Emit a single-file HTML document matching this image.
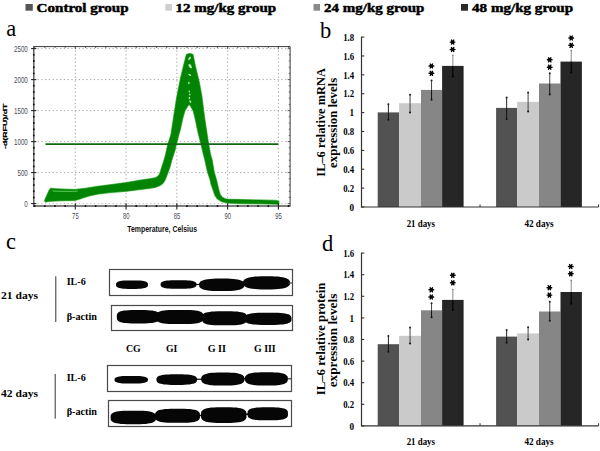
<!DOCTYPE html>
<html><head><meta charset="utf-8"><style>
html,body{margin:0;padding:0;background:#fff;}
svg{display:block;}
.S{font-family:"Liberation Serif",serif;}
.A{font-family:"Liberation Sans",sans-serif;}
</style></head><body>
<svg width="600" height="451" viewBox="0 0 600 451">
<rect width="600" height="451" fill="#fff"/>
<rect x="25.5" y="4" width="7.3" height="6.7" fill="#555555" stroke="none" stroke-width="0"/>
<text x="36.6" y="11.8" font-size="12.2" font-weight="bold" text-anchor="start" fill="#000" class="S" textLength="92" lengthAdjust="spacingAndGlyphs" stroke="#000" stroke-width="0.45">Control group</text>
<rect x="165.3" y="4" width="6.7" height="6.7" fill="#cfcfcf" stroke="none" stroke-width="0"/>
<text x="175.6" y="11.8" font-size="12.2" font-weight="bold" text-anchor="start" fill="#000" class="S" textLength="100.5" lengthAdjust="spacingAndGlyphs" stroke="#000" stroke-width="0.45">12 mg/kg group</text>
<rect x="313.5" y="4" width="6.5" height="6.7" fill="#8a8a8a" stroke="none" stroke-width="0"/>
<text x="324.1" y="11.8" font-size="12.2" font-weight="bold" text-anchor="start" fill="#000" class="S" textLength="100.3" lengthAdjust="spacingAndGlyphs" stroke="#000" stroke-width="0.45">24 mg/kg group</text>
<rect x="461" y="4" width="7" height="6.7" fill="#2a2a2a" stroke="none" stroke-width="0"/>
<text x="472.1" y="11.8" font-size="12.2" font-weight="bold" text-anchor="start" fill="#000" class="S" textLength="101" lengthAdjust="spacingAndGlyphs" stroke="#000" stroke-width="0.45">48 mg/kg group</text>
<text x="6.3" y="35.6" font-size="22.5" font-weight="normal" text-anchor="start" fill="#000" class="S">a</text>
<text x="320" y="37.8" font-size="22.5" font-weight="normal" text-anchor="start" fill="#000" class="S">b</text>
<text x="6" y="249.4" font-size="22.5" font-weight="normal" text-anchor="start" fill="#000" class="S">c</text>
<text x="322" y="251" font-size="22.5" font-weight="normal" text-anchor="start" fill="#000" class="S">d</text>
<line x1="33.8" y1="172.6" x2="290.1" y2="172.6" stroke="#9a9a9a" stroke-width="0.9" stroke-dasharray="1.3 2.45"/>
<line x1="33.8" y1="141.6" x2="290.1" y2="141.6" stroke="#9a9a9a" stroke-width="0.9" stroke-dasharray="1.3 2.45"/>
<line x1="33.8" y1="110.6" x2="290.1" y2="110.6" stroke="#9a9a9a" stroke-width="0.9" stroke-dasharray="1.3 2.45"/>
<line x1="33.8" y1="79.6" x2="290.1" y2="79.6" stroke="#9a9a9a" stroke-width="0.9" stroke-dasharray="1.3 2.45"/>
<line x1="33.8" y1="48.599999999999994" x2="290.1" y2="48.599999999999994" stroke="#9a9a9a" stroke-width="0.9" stroke-dasharray="1.3 2.45"/>
<line x1="33.8" y1="203.6" x2="290.1" y2="203.6" stroke="#b5b5b5" stroke-width="0.9" stroke-dasharray="1.3 2.45"/>
<line x1="75.3" y1="46.6" x2="75.3" y2="206.0" stroke="#9a9a9a" stroke-width="0.9" stroke-dasharray="1.3 2.45"/>
<line x1="126.07499999999999" y1="46.6" x2="126.07499999999999" y2="206.0" stroke="#9a9a9a" stroke-width="0.9" stroke-dasharray="1.3 2.45"/>
<line x1="176.85" y1="46.6" x2="176.85" y2="206.0" stroke="#9a9a9a" stroke-width="0.9" stroke-dasharray="1.3 2.45"/>
<line x1="227.625" y1="46.6" x2="227.625" y2="206.0" stroke="#9a9a9a" stroke-width="0.9" stroke-dasharray="1.3 2.45"/>
<line x1="278.4" y1="46.6" x2="278.4" y2="206.0" stroke="#9a9a9a" stroke-width="0.9" stroke-dasharray="1.3 2.45"/>
<path d="M44.6,200.5 L47.0,195.0 L49.3,190.0 L50.8,188.3 L55.0,188.7 L65.0,189.2 L75.0,189.5 L86.0,188.2 L96.3,186.6 L110.0,184.8 L126.7,182.6 L140.0,180.2 L150.0,178.8 L155.5,177.7 L158.0,176.3 L159.6,174.0 L160.4,171.5 L162.0,166.5 L164.1,160.0 L165.5,155.0 L166.6,150.0 L167.9,144.0 L170.9,135.0 L173.5,118.0 L176.6,98.0 L180.6,78.0 L183.5,66.0 L186.4,54.6 L188.3,53.7 L191.2,53.7 L193.0,54.6 L195.2,65.5 L197.5,75.0 L199.2,82.0 L201.8,96.0 L204.6,118.0 L207.2,135.0 L208.6,144.0 L210.4,154.0 L212.1,160.0 L214.2,172.2 L216.5,180.0 L217.4,184.0 L218.8,190.0 L220.2,194.5 L222.3,197.3 L225.0,198.7 L228.0,199.3 L240.0,199.6 L260.0,200.0 L275.0,200.4 L278.8,201.0 L278.8,204.2 L260.0,203.8 L240.0,203.6 L228.0,203.1 L222.0,201.8 L217.4,199.0 L215.0,195.5 L213.1,190.0 L211.0,184.0 L210.2,180.0 L207.6,172.2 L204.9,160.0 L202.4,150.0 L201.0,144.0 L200.2,141.0 L197.5,130.0 L195.5,120.0 L193.3,111.0 L190.5,106.0 L189.1,104.4 L187.8,106.0 L184.8,111.0 L182.8,118.0 L180.2,130.0 L178.7,135.0 L177.3,141.0 L176.4,144.0 L175.1,150.0 L171.8,160.0 L170.3,166.0 L168.0,172.4 L166.5,176.5 L165.0,180.2 L163.0,183.3 L160.0,185.6 L155.0,187.4 L150.0,188.3 L140.0,189.5 L126.7,191.2 L110.0,192.6 L98.5,193.9 L90.0,195.7 L84.0,197.6 L79.0,199.3 L74.7,200.4 L60.0,200.8 L50.0,201.3 L45.2,202.0 Z" fill="none" stroke="#b8ecb8" stroke-width="1.6" stroke-linejoin="round"/>
<path d="M44.6,200.5 L47.0,195.0 L49.3,190.0 L50.8,188.3 L55.0,188.7 L65.0,189.2 L75.0,189.5 L86.0,188.2 L96.3,186.6 L110.0,184.8 L126.7,182.6 L140.0,180.2 L150.0,178.8 L155.5,177.7 L158.0,176.3 L159.6,174.0 L160.4,171.5 L162.0,166.5 L164.1,160.0 L165.5,155.0 L166.6,150.0 L167.9,144.0 L170.9,135.0 L173.5,118.0 L176.6,98.0 L180.6,78.0 L183.5,66.0 L186.4,54.6 L188.3,53.7 L191.2,53.7 L193.0,54.6 L195.2,65.5 L197.5,75.0 L199.2,82.0 L201.8,96.0 L204.6,118.0 L207.2,135.0 L208.6,144.0 L210.4,154.0 L212.1,160.0 L214.2,172.2 L216.5,180.0 L217.4,184.0 L218.8,190.0 L220.2,194.5 L222.3,197.3 L225.0,198.7 L228.0,199.3 L240.0,199.6 L260.0,200.0 L275.0,200.4 L278.8,201.0 L278.8,204.2 L260.0,203.8 L240.0,203.6 L228.0,203.1 L222.0,201.8 L217.4,199.0 L215.0,195.5 L213.1,190.0 L211.0,184.0 L210.2,180.0 L207.6,172.2 L204.9,160.0 L202.4,150.0 L201.0,144.0 L200.2,141.0 L197.5,130.0 L195.5,120.0 L193.3,111.0 L190.5,106.0 L189.1,104.4 L187.8,106.0 L184.8,111.0 L182.8,118.0 L180.2,130.0 L178.7,135.0 L177.3,141.0 L176.4,144.0 L175.1,150.0 L171.8,160.0 L170.3,166.0 L168.0,172.4 L166.5,176.5 L165.0,180.2 L163.0,183.3 L160.0,185.6 L155.0,187.4 L150.0,188.3 L140.0,189.5 L126.7,191.2 L110.0,192.6 L98.5,193.9 L90.0,195.7 L84.0,197.6 L79.0,199.3 L74.7,200.4 L60.0,200.8 L50.0,201.3 L45.2,202.0 Z" fill="#048404" stroke="#048404" stroke-width="0.5" stroke-linejoin="round"/>
<path d="M52.5,191 L60,191.3 L70,191.4 L77.6,191.2" stroke="#5fd35f" stroke-width="0.9" fill="none"/>
<ellipse cx="189.6" cy="58.3" rx="0.9" ry="1.9" fill="#b6eeb6" transform="rotate(40 189.6 58.3)"/>
<ellipse cx="190.2" cy="66.2" rx="1.3" ry="2.4" fill="#b6eeb6" transform="rotate(-35 190.2 66.2)"/>
<ellipse cx="189.8" cy="74.9" rx="0.8" ry="1.6" fill="#b6eeb6" transform="rotate(-55 189.8 74.9)"/>
<ellipse cx="188.9" cy="83" rx="0.7" ry="1.3" fill="#b6eeb6" transform="rotate(0 188.9 83)"/>
<ellipse cx="189.3" cy="91.5" rx="0.7" ry="1.1" fill="#b6eeb6" transform="rotate(0 189.3 91.5)"/>
<ellipse cx="189.8" cy="94.5" rx="0.7" ry="1.0" fill="#b6eeb6" transform="rotate(0 189.8 94.5)"/>
<ellipse cx="189.4" cy="98" rx="0.8" ry="1.3" fill="#b6eeb6" transform="rotate(0 189.4 98)"/>
<ellipse cx="190.3" cy="101.5" rx="0.8" ry="1.4" fill="#b6eeb6" transform="rotate(-30 190.3 101.5)"/>
<line x1="45.5" y1="144.1" x2="278.3" y2="144.1" stroke="#116811" stroke-width="1.6"/>
<path d="M33.8,46.6 H290.1 V206.0" fill="none" stroke="#3a3a3a" stroke-width="1"/>
<line x1="33.8" y1="46.1" x2="33.8" y2="207.0" stroke="#555" stroke-width="1.4"/>
<line x1="33.3" y1="206.0" x2="290.6" y2="206.0" stroke="#555" stroke-width="1.4"/>
<line x1="31.099999999999998" y1="203.6" x2="36.3" y2="203.6" stroke="#222" stroke-width="1.1"/>
<line x1="287.6" y1="203.6" x2="290.1" y2="203.6" stroke="#444" stroke-width="0.8"/>
<circle cx="33.8" cy="197.40" r="0.95" fill="#111"/>
<line x1="288.8" y1="197.4" x2="290.1" y2="197.4" stroke="#444" stroke-width="0.9"/>
<circle cx="33.8" cy="191.20" r="0.95" fill="#111"/>
<line x1="288.8" y1="191.2" x2="290.1" y2="191.2" stroke="#444" stroke-width="0.9"/>
<circle cx="33.8" cy="185.00" r="0.95" fill="#111"/>
<line x1="288.8" y1="185.0" x2="290.1" y2="185.0" stroke="#444" stroke-width="0.9"/>
<circle cx="33.8" cy="178.80" r="0.95" fill="#111"/>
<line x1="288.8" y1="178.79999999999998" x2="290.1" y2="178.79999999999998" stroke="#444" stroke-width="0.9"/>
<line x1="31.099999999999998" y1="172.6" x2="36.3" y2="172.6" stroke="#222" stroke-width="1.1"/>
<line x1="287.6" y1="172.6" x2="290.1" y2="172.6" stroke="#444" stroke-width="0.8"/>
<circle cx="33.8" cy="166.40" r="0.95" fill="#111"/>
<line x1="288.8" y1="166.39999999999998" x2="290.1" y2="166.39999999999998" stroke="#444" stroke-width="0.9"/>
<circle cx="33.8" cy="160.20" r="0.95" fill="#111"/>
<line x1="288.8" y1="160.2" x2="290.1" y2="160.2" stroke="#444" stroke-width="0.9"/>
<circle cx="33.8" cy="154.00" r="0.95" fill="#111"/>
<line x1="288.8" y1="154.0" x2="290.1" y2="154.0" stroke="#444" stroke-width="0.9"/>
<circle cx="33.8" cy="147.80" r="0.95" fill="#111"/>
<line x1="288.8" y1="147.8" x2="290.1" y2="147.8" stroke="#444" stroke-width="0.9"/>
<line x1="31.099999999999998" y1="141.6" x2="36.3" y2="141.6" stroke="#222" stroke-width="1.1"/>
<line x1="287.6" y1="141.6" x2="290.1" y2="141.6" stroke="#444" stroke-width="0.8"/>
<circle cx="33.8" cy="135.40" r="0.95" fill="#111"/>
<line x1="288.8" y1="135.39999999999998" x2="290.1" y2="135.39999999999998" stroke="#444" stroke-width="0.9"/>
<circle cx="33.8" cy="129.20" r="0.95" fill="#111"/>
<line x1="288.8" y1="129.2" x2="290.1" y2="129.2" stroke="#444" stroke-width="0.9"/>
<circle cx="33.8" cy="123.00" r="0.95" fill="#111"/>
<line x1="288.8" y1="123.0" x2="290.1" y2="123.0" stroke="#444" stroke-width="0.9"/>
<circle cx="33.8" cy="116.80" r="0.95" fill="#111"/>
<line x1="288.8" y1="116.8" x2="290.1" y2="116.8" stroke="#444" stroke-width="0.9"/>
<line x1="31.099999999999998" y1="110.6" x2="36.3" y2="110.6" stroke="#222" stroke-width="1.1"/>
<line x1="287.6" y1="110.6" x2="290.1" y2="110.6" stroke="#444" stroke-width="0.8"/>
<circle cx="33.8" cy="104.40" r="0.95" fill="#111"/>
<line x1="288.8" y1="104.39999999999999" x2="290.1" y2="104.39999999999999" stroke="#444" stroke-width="0.9"/>
<circle cx="33.8" cy="98.20" r="0.95" fill="#111"/>
<line x1="288.8" y1="98.19999999999999" x2="290.1" y2="98.19999999999999" stroke="#444" stroke-width="0.9"/>
<circle cx="33.8" cy="92.00" r="0.95" fill="#111"/>
<line x1="288.8" y1="92.0" x2="290.1" y2="92.0" stroke="#444" stroke-width="0.9"/>
<circle cx="33.8" cy="85.80" r="0.95" fill="#111"/>
<line x1="288.8" y1="85.8" x2="290.1" y2="85.8" stroke="#444" stroke-width="0.9"/>
<line x1="31.099999999999998" y1="79.6" x2="36.3" y2="79.6" stroke="#222" stroke-width="1.1"/>
<line x1="287.6" y1="79.6" x2="290.1" y2="79.6" stroke="#444" stroke-width="0.8"/>
<circle cx="33.8" cy="73.40" r="0.95" fill="#111"/>
<line x1="288.8" y1="73.4" x2="290.1" y2="73.4" stroke="#444" stroke-width="0.9"/>
<circle cx="33.8" cy="67.20" r="0.95" fill="#111"/>
<line x1="288.8" y1="67.19999999999999" x2="290.1" y2="67.19999999999999" stroke="#444" stroke-width="0.9"/>
<circle cx="33.8" cy="61.00" r="0.95" fill="#111"/>
<line x1="288.8" y1="61.0" x2="290.1" y2="61.0" stroke="#444" stroke-width="0.9"/>
<circle cx="33.8" cy="54.80" r="0.95" fill="#111"/>
<line x1="288.8" y1="54.79999999999998" x2="290.1" y2="54.79999999999998" stroke="#444" stroke-width="0.9"/>
<line x1="31.099999999999998" y1="48.599999999999994" x2="36.3" y2="48.599999999999994" stroke="#222" stroke-width="1.1"/>
<line x1="287.6" y1="48.599999999999994" x2="290.1" y2="48.599999999999994" stroke="#444" stroke-width="0.8"/>
<circle cx="34.68" cy="206.0" r="0.95" fill="#111"/>
<line x1="34.68" y1="46.6" x2="34.68" y2="47.9" stroke="#444" stroke-width="0.9"/>
<circle cx="44.84" cy="206.0" r="0.95" fill="#111"/>
<line x1="44.835" y1="46.6" x2="44.835" y2="47.9" stroke="#444" stroke-width="0.9"/>
<circle cx="54.99" cy="206.0" r="0.95" fill="#111"/>
<line x1="54.989999999999995" y1="46.6" x2="54.989999999999995" y2="47.9" stroke="#444" stroke-width="0.9"/>
<circle cx="65.14" cy="206.0" r="0.95" fill="#111"/>
<line x1="65.145" y1="46.6" x2="65.145" y2="47.9" stroke="#444" stroke-width="0.9"/>
<line x1="75.3" y1="203.2" x2="75.3" y2="209.5" stroke="#222" stroke-width="1.1"/>
<line x1="75.3" y1="46.6" x2="75.3" y2="49.1" stroke="#444" stroke-width="0.8"/>
<circle cx="85.45" cy="206.0" r="0.95" fill="#111"/>
<line x1="85.455" y1="46.6" x2="85.455" y2="47.9" stroke="#444" stroke-width="0.9"/>
<circle cx="95.61" cy="206.0" r="0.95" fill="#111"/>
<line x1="95.61" y1="46.6" x2="95.61" y2="47.9" stroke="#444" stroke-width="0.9"/>
<circle cx="105.76" cy="206.0" r="0.95" fill="#111"/>
<line x1="105.76499999999999" y1="46.6" x2="105.76499999999999" y2="47.9" stroke="#444" stroke-width="0.9"/>
<circle cx="115.92" cy="206.0" r="0.95" fill="#111"/>
<line x1="115.91999999999999" y1="46.6" x2="115.91999999999999" y2="47.9" stroke="#444" stroke-width="0.9"/>
<line x1="126.07499999999999" y1="203.2" x2="126.07499999999999" y2="209.5" stroke="#222" stroke-width="1.1"/>
<line x1="126.07499999999999" y1="46.6" x2="126.07499999999999" y2="49.1" stroke="#444" stroke-width="0.8"/>
<circle cx="136.23" cy="206.0" r="0.95" fill="#111"/>
<line x1="136.23" y1="46.6" x2="136.23" y2="47.9" stroke="#444" stroke-width="0.9"/>
<circle cx="146.38" cy="206.0" r="0.95" fill="#111"/>
<line x1="146.385" y1="46.6" x2="146.385" y2="47.9" stroke="#444" stroke-width="0.9"/>
<circle cx="156.54" cy="206.0" r="0.95" fill="#111"/>
<line x1="156.54" y1="46.6" x2="156.54" y2="47.9" stroke="#444" stroke-width="0.9"/>
<circle cx="166.69" cy="206.0" r="0.95" fill="#111"/>
<line x1="166.695" y1="46.6" x2="166.695" y2="47.9" stroke="#444" stroke-width="0.9"/>
<line x1="176.85" y1="203.2" x2="176.85" y2="209.5" stroke="#222" stroke-width="1.1"/>
<line x1="176.85" y1="46.6" x2="176.85" y2="49.1" stroke="#444" stroke-width="0.8"/>
<circle cx="187.00" cy="206.0" r="0.95" fill="#111"/>
<line x1="187.005" y1="46.6" x2="187.005" y2="47.9" stroke="#444" stroke-width="0.9"/>
<circle cx="197.16" cy="206.0" r="0.95" fill="#111"/>
<line x1="197.15999999999997" y1="46.6" x2="197.15999999999997" y2="47.9" stroke="#444" stroke-width="0.9"/>
<circle cx="207.31" cy="206.0" r="0.95" fill="#111"/>
<line x1="207.315" y1="46.6" x2="207.315" y2="47.9" stroke="#444" stroke-width="0.9"/>
<circle cx="217.47" cy="206.0" r="0.95" fill="#111"/>
<line x1="217.46999999999997" y1="46.6" x2="217.46999999999997" y2="47.9" stroke="#444" stroke-width="0.9"/>
<line x1="227.625" y1="203.2" x2="227.625" y2="209.5" stroke="#222" stroke-width="1.1"/>
<line x1="227.625" y1="46.6" x2="227.625" y2="49.1" stroke="#444" stroke-width="0.8"/>
<circle cx="237.78" cy="206.0" r="0.95" fill="#111"/>
<line x1="237.77999999999997" y1="46.6" x2="237.77999999999997" y2="47.9" stroke="#444" stroke-width="0.9"/>
<circle cx="247.94" cy="206.0" r="0.95" fill="#111"/>
<line x1="247.935" y1="46.6" x2="247.935" y2="47.9" stroke="#444" stroke-width="0.9"/>
<circle cx="258.09" cy="206.0" r="0.95" fill="#111"/>
<line x1="258.09" y1="46.6" x2="258.09" y2="47.9" stroke="#444" stroke-width="0.9"/>
<circle cx="268.25" cy="206.0" r="0.95" fill="#111"/>
<line x1="268.245" y1="46.6" x2="268.245" y2="47.9" stroke="#444" stroke-width="0.9"/>
<line x1="278.4" y1="203.2" x2="278.4" y2="209.5" stroke="#222" stroke-width="1.1"/>
<line x1="278.4" y1="46.6" x2="278.4" y2="49.1" stroke="#444" stroke-width="0.8"/>
<circle cx="288.56" cy="206.0" r="0.95" fill="#111"/>
<line x1="288.555" y1="46.6" x2="288.555" y2="47.9" stroke="#444" stroke-width="0.9"/>
<text x="27.8" y="206.7" font-size="8.7" font-weight="normal" text-anchor="end" fill="#4a4a55" class="A" textLength="3.45" lengthAdjust="spacingAndGlyphs">0</text>
<text x="27.8" y="175.7" font-size="8.7" font-weight="normal" text-anchor="end" fill="#4a4a55" class="A" textLength="10.350000000000001" lengthAdjust="spacingAndGlyphs">500</text>
<text x="27.8" y="144.7" font-size="8.7" font-weight="normal" text-anchor="end" fill="#4a4a55" class="A" textLength="13.8" lengthAdjust="spacingAndGlyphs">1000</text>
<text x="27.8" y="113.69999999999999" font-size="8.7" font-weight="normal" text-anchor="end" fill="#4a4a55" class="A" textLength="13.8" lengthAdjust="spacingAndGlyphs">1500</text>
<text x="27.8" y="82.69999999999999" font-size="8.7" font-weight="normal" text-anchor="end" fill="#4a4a55" class="A" textLength="13.8" lengthAdjust="spacingAndGlyphs">2000</text>
<text x="27.8" y="51.699999999999996" font-size="8.7" font-weight="normal" text-anchor="end" fill="#4a4a55" class="A" textLength="13.8" lengthAdjust="spacingAndGlyphs">2500</text>
<text x="75.39999999999999" y="218.8" font-size="8.2" font-weight="normal" text-anchor="middle" fill="#4a4a55" class="A" textLength="6.6" lengthAdjust="spacingAndGlyphs">75</text>
<text x="126.17499999999998" y="218.8" font-size="8.2" font-weight="normal" text-anchor="middle" fill="#4a4a55" class="A" textLength="6.6" lengthAdjust="spacingAndGlyphs">80</text>
<text x="176.95" y="218.8" font-size="8.2" font-weight="normal" text-anchor="middle" fill="#4a4a55" class="A" textLength="6.6" lengthAdjust="spacingAndGlyphs">85</text>
<text x="227.725" y="218.8" font-size="8.2" font-weight="normal" text-anchor="middle" fill="#4a4a55" class="A" textLength="6.6" lengthAdjust="spacingAndGlyphs">90</text>
<text x="278.5" y="218.8" font-size="8.2" font-weight="normal" text-anchor="middle" fill="#4a4a55" class="A" textLength="6.6" lengthAdjust="spacingAndGlyphs">95</text>
<text x="127.3" y="232.3" font-size="8.3" font-weight="bold" text-anchor="start" fill="#111" class="A" textLength="69.7" lengthAdjust="spacingAndGlyphs">Temperature, Celsius</text>
<text transform="translate(6.9,126.3) rotate(-90) scale(1,0.62)" font-size="8.8" font-weight="bold" text-anchor="middle" class="A" fill="#000" stroke="#000" stroke-width="0.4">-d(RFU)/dT</text>
<rect x="377.7" y="112.4" width="21.400000000000034" height="94.6" fill="#525252" stroke="none" stroke-width="0"/>
<line x1="388.4" y1="104.3" x2="388.4" y2="112.4" stroke="#222" stroke-width="1.0"/>
<line x1="388.4" y1="112.4" x2="388.4" y2="119.8" stroke="#111" stroke-width="1.0"/>
<circle cx="388.40" cy="104.3" r="1.0" fill="#222"/>
<circle cx="388.40" cy="119.8" r="1.0" fill="#111"/>
<rect x="399.1" y="103.2" width="21.899999999999977" height="103.8" fill="#cacaca" stroke="none" stroke-width="0"/>
<line x1="410.05" y1="94.7" x2="410.05" y2="103.2" stroke="#444" stroke-width="1.0"/>
<line x1="410.05" y1="103.2" x2="410.05" y2="112.5" stroke="#444" stroke-width="1.0"/>
<circle cx="410.05" cy="94.7" r="1.0" fill="#222"/>
<circle cx="410.05" cy="112.5" r="1.0" fill="#111"/>
<rect x="421" y="89.9" width="21.100000000000023" height="117.1" fill="#868686" stroke="none" stroke-width="0"/>
<line x1="431.55" y1="80.5" x2="431.55" y2="89.9" stroke="#444" stroke-width="1.0"/>
<line x1="431.55" y1="89.9" x2="431.55" y2="99.8" stroke="#111" stroke-width="1.0"/>
<circle cx="431.55" cy="80.5" r="1.0" fill="#222"/>
<circle cx="431.55" cy="99.8" r="1.0" fill="#111"/>
<rect x="442.1" y="65.9" width="21.5" height="141.1" fill="#262626" stroke="none" stroke-width="0"/>
<line x1="452.85" y1="55.3" x2="452.85" y2="65.9" stroke="#8a8a8a" stroke-width="1.0"/>
<line x1="452.85" y1="65.9" x2="452.85" y2="76.6" stroke="#000" stroke-width="1.1"/>
<circle cx="452.85" cy="55.3" r="0.8" fill="#777"/>
<circle cx="452.85" cy="76.6" r="1.0" fill="#000"/>
<rect x="496.1" y="107.9" width="21.100000000000023" height="99.1" fill="#525252" stroke="none" stroke-width="0"/>
<line x1="506.65000000000003" y1="97.4" x2="506.65000000000003" y2="107.9" stroke="#222" stroke-width="1.0"/>
<line x1="506.65000000000003" y1="107.9" x2="506.65000000000003" y2="118.9" stroke="#111" stroke-width="1.0"/>
<circle cx="506.65" cy="97.4" r="1.0" fill="#222"/>
<circle cx="506.65" cy="118.9" r="1.0" fill="#111"/>
<rect x="517.2" y="101.8" width="21.799999999999955" height="105.2" fill="#cacaca" stroke="none" stroke-width="0"/>
<line x1="528.1" y1="92.6" x2="528.1" y2="101.8" stroke="#444" stroke-width="1.0"/>
<line x1="528.1" y1="101.8" x2="528.1" y2="111.6" stroke="#444" stroke-width="1.0"/>
<circle cx="528.10" cy="92.6" r="1.0" fill="#222"/>
<circle cx="528.10" cy="111.6" r="1.0" fill="#111"/>
<rect x="539" y="83.5" width="21.5" height="123.5" fill="#868686" stroke="none" stroke-width="0"/>
<line x1="549.75" y1="73.3" x2="549.75" y2="83.5" stroke="#444" stroke-width="1.0"/>
<line x1="549.75" y1="83.5" x2="549.75" y2="94.5" stroke="#111" stroke-width="1.0"/>
<circle cx="549.75" cy="73.3" r="1.0" fill="#222"/>
<circle cx="549.75" cy="94.5" r="1.0" fill="#111"/>
<rect x="560.5" y="61.6" width="21.399999999999977" height="145.4" fill="#262626" stroke="none" stroke-width="0"/>
<line x1="571.2" y1="50.6" x2="571.2" y2="61.6" stroke="#8a8a8a" stroke-width="1.0"/>
<line x1="571.2" y1="61.6" x2="571.2" y2="72.6" stroke="#000" stroke-width="1.1"/>
<circle cx="571.20" cy="50.6" r="0.8" fill="#777"/>
<circle cx="571.20" cy="72.6" r="1.0" fill="#000"/>
<g stroke="#000" stroke-width="1.45" stroke-linecap="round"><line x1="429.09999999999997" y1="66" x2="433.7" y2="66"/><line x1="430.25" y1="64.01" x2="432.55" y2="67.99"/><line x1="430.25" y1="67.99" x2="432.55" y2="64.01"/></g>
<circle cx="431.4" cy="66" r="1.45" fill="#000"/>
<g stroke="#000" stroke-width="1.45" stroke-linecap="round"><line x1="429.09999999999997" y1="73.3" x2="433.7" y2="73.3"/><line x1="430.25" y1="71.31" x2="432.55" y2="75.29"/><line x1="430.25" y1="75.29" x2="432.55" y2="71.31"/></g>
<circle cx="431.4" cy="73.3" r="1.45" fill="#000"/>
<g stroke="#000" stroke-width="1.45" stroke-linecap="round"><line x1="450.3" y1="42.1" x2="454.90000000000003" y2="42.1"/><line x1="451.45" y1="40.11" x2="453.75" y2="44.09"/><line x1="451.45" y1="44.09" x2="453.75" y2="40.11"/></g>
<circle cx="452.6" cy="42.1" r="1.45" fill="#000"/>
<g stroke="#000" stroke-width="1.45" stroke-linecap="round"><line x1="450.3" y1="49.5" x2="454.90000000000003" y2="49.5"/><line x1="451.45" y1="47.51" x2="453.75" y2="51.49"/><line x1="451.45" y1="51.49" x2="453.75" y2="47.51"/></g>
<circle cx="452.6" cy="49.5" r="1.45" fill="#000"/>
<g stroke="#000" stroke-width="1.45" stroke-linecap="round"><line x1="547.4000000000001" y1="59.8" x2="552.0" y2="59.8"/><line x1="548.55" y1="57.81" x2="550.85" y2="61.79"/><line x1="548.55" y1="61.79" x2="550.85" y2="57.81"/></g>
<circle cx="549.7" cy="59.8" r="1.45" fill="#000"/>
<g stroke="#000" stroke-width="1.45" stroke-linecap="round"><line x1="547.4000000000001" y1="67.2" x2="552.0" y2="67.2"/><line x1="548.55" y1="65.21" x2="550.85" y2="69.19"/><line x1="548.55" y1="69.19" x2="550.85" y2="65.21"/></g>
<circle cx="549.7" cy="67.2" r="1.45" fill="#000"/>
<g stroke="#000" stroke-width="1.45" stroke-linecap="round"><line x1="568.9000000000001" y1="38" x2="573.5" y2="38"/><line x1="570.05" y1="36.01" x2="572.35" y2="39.99"/><line x1="570.05" y1="39.99" x2="572.35" y2="36.01"/></g>
<circle cx="571.2" cy="38" r="1.45" fill="#000"/>
<g stroke="#000" stroke-width="1.45" stroke-linecap="round"><line x1="568.9000000000001" y1="45.3" x2="573.5" y2="45.3"/><line x1="570.05" y1="43.31" x2="572.35" y2="47.29"/><line x1="570.05" y1="47.29" x2="572.35" y2="43.31"/></g>
<circle cx="571.2" cy="45.3" r="1.45" fill="#000"/>
<line x1="361.5" y1="36.6" x2="361.5" y2="207.6" stroke="#333" stroke-width="1.2"/>
<line x1="361.5" y1="207.0" x2="598.6" y2="207.0" stroke="#333" stroke-width="1.2"/>
<line x1="361.5" y1="207.0" x2="364.3" y2="207.0" stroke="#333" stroke-width="1.1"/>
<text x="354.2" y="210.7" font-size="11" font-weight="bold" text-anchor="end" fill="#000" class="S" textLength="4.6" lengthAdjust="spacingAndGlyphs">0</text>
<line x1="361.5" y1="188.12" x2="364.3" y2="188.12" stroke="#333" stroke-width="1.1"/>
<text x="354.2" y="191.82" font-size="11" font-weight="bold" text-anchor="end" fill="#000" class="S" textLength="11.0" lengthAdjust="spacingAndGlyphs">0.2</text>
<line x1="361.5" y1="169.24" x2="364.3" y2="169.24" stroke="#333" stroke-width="1.1"/>
<text x="354.2" y="172.94" font-size="11" font-weight="bold" text-anchor="end" fill="#000" class="S" textLength="11.0" lengthAdjust="spacingAndGlyphs">0.4</text>
<line x1="361.5" y1="150.36" x2="364.3" y2="150.36" stroke="#333" stroke-width="1.1"/>
<text x="354.2" y="154.06" font-size="11" font-weight="bold" text-anchor="end" fill="#000" class="S" textLength="11.0" lengthAdjust="spacingAndGlyphs">0.6</text>
<line x1="361.5" y1="131.48" x2="364.3" y2="131.48" stroke="#333" stroke-width="1.1"/>
<text x="354.2" y="135.17999999999998" font-size="11" font-weight="bold" text-anchor="end" fill="#000" class="S" textLength="11.0" lengthAdjust="spacingAndGlyphs">0.8</text>
<line x1="361.5" y1="112.6" x2="364.3" y2="112.6" stroke="#333" stroke-width="1.1"/>
<text x="354.2" y="116.3" font-size="11" font-weight="bold" text-anchor="end" fill="#000" class="S" textLength="4.6" lengthAdjust="spacingAndGlyphs">1</text>
<line x1="361.5" y1="93.72" x2="364.3" y2="93.72" stroke="#333" stroke-width="1.1"/>
<text x="354.2" y="97.42" font-size="11" font-weight="bold" text-anchor="end" fill="#000" class="S" textLength="11.0" lengthAdjust="spacingAndGlyphs">1.2</text>
<line x1="361.5" y1="74.84" x2="364.3" y2="74.84" stroke="#333" stroke-width="1.1"/>
<text x="354.2" y="78.54" font-size="11" font-weight="bold" text-anchor="end" fill="#000" class="S" textLength="11.0" lengthAdjust="spacingAndGlyphs">1.4</text>
<line x1="361.5" y1="55.95999999999998" x2="364.3" y2="55.95999999999998" stroke="#333" stroke-width="1.1"/>
<text x="354.2" y="59.65999999999998" font-size="11" font-weight="bold" text-anchor="end" fill="#000" class="S" textLength="11.0" lengthAdjust="spacingAndGlyphs">1.6</text>
<line x1="361.5" y1="37.079999999999984" x2="364.3" y2="37.079999999999984" stroke="#333" stroke-width="1.1"/>
<text x="354.2" y="40.77999999999999" font-size="11" font-weight="bold" text-anchor="end" fill="#000" class="S" textLength="11.0" lengthAdjust="spacingAndGlyphs">1.8</text>
<line x1="480.05" y1="207.0" x2="480.05" y2="204.4" stroke="#333" stroke-width="1"/>
<line x1="598.6" y1="207.0" x2="598.6" y2="204.4" stroke="#333" stroke-width="1"/>
<text x="406.7" y="227.3" font-size="11" font-weight="bold" text-anchor="start" fill="#000" class="S" textLength="28.3" lengthAdjust="spacingAndGlyphs">21 days</text>
<text x="524.4" y="227.3" font-size="11" font-weight="bold" text-anchor="start" fill="#000" class="S" textLength="29.3" lengthAdjust="spacingAndGlyphs">42 days</text>
<text transform="translate(325,122.4) rotate(-90)" font-size="12.3" font-weight="bold" text-anchor="middle" class="S" textLength="108.6" lengthAdjust="spacingAndGlyphs">IL–6 relative mRNA</text>
<text transform="translate(337.2,122.9) rotate(-90)" font-size="12.3" font-weight="bold" text-anchor="middle" class="S" textLength="90" lengthAdjust="spacingAndGlyphs">expression levels</text>
<rect x="377.7" y="344.2" width="21.400000000000034" height="81.60000000000002" fill="#525252" stroke="none" stroke-width="0"/>
<line x1="388.4" y1="336" x2="388.4" y2="344.2" stroke="#222" stroke-width="1.0"/>
<line x1="388.4" y1="344.2" x2="388.4" y2="351.8" stroke="#111" stroke-width="1.0"/>
<circle cx="388.40" cy="336" r="1.0" fill="#222"/>
<circle cx="388.40" cy="351.8" r="1.0" fill="#111"/>
<rect x="399.1" y="335.8" width="21.899999999999977" height="90.0" fill="#cacaca" stroke="none" stroke-width="0"/>
<line x1="410.05" y1="327.6" x2="410.05" y2="335.8" stroke="#444" stroke-width="1.0"/>
<line x1="410.05" y1="335.8" x2="410.05" y2="343.6" stroke="#444" stroke-width="1.0"/>
<circle cx="410.05" cy="327.6" r="1.0" fill="#222"/>
<circle cx="410.05" cy="343.6" r="1.0" fill="#111"/>
<rect x="421" y="310.3" width="21.100000000000023" height="115.5" fill="#868686" stroke="none" stroke-width="0"/>
<line x1="431.55" y1="303.2" x2="431.55" y2="310.3" stroke="#444" stroke-width="1.0"/>
<line x1="431.55" y1="310.3" x2="431.55" y2="317.2" stroke="#111" stroke-width="1.0"/>
<circle cx="431.55" cy="303.2" r="1.0" fill="#222"/>
<circle cx="431.55" cy="317.2" r="1.0" fill="#111"/>
<rect x="442.1" y="299.9" width="21.5" height="125.90000000000003" fill="#262626" stroke="none" stroke-width="0"/>
<line x1="452.85" y1="289.5" x2="452.85" y2="299.9" stroke="#8a8a8a" stroke-width="1.0"/>
<line x1="452.85" y1="299.9" x2="452.85" y2="309.9" stroke="#000" stroke-width="1.1"/>
<circle cx="452.85" cy="289.5" r="0.8" fill="#777"/>
<circle cx="452.85" cy="309.9" r="1.0" fill="#000"/>
<rect x="496.1" y="336.6" width="21.100000000000023" height="89.19999999999999" fill="#525252" stroke="none" stroke-width="0"/>
<line x1="506.65000000000003" y1="330" x2="506.65000000000003" y2="336.6" stroke="#222" stroke-width="1.0"/>
<line x1="506.65000000000003" y1="336.6" x2="506.65000000000003" y2="342.7" stroke="#111" stroke-width="1.0"/>
<circle cx="506.65" cy="330" r="1.0" fill="#222"/>
<circle cx="506.65" cy="342.7" r="1.0" fill="#111"/>
<rect x="517.2" y="333.4" width="21.799999999999955" height="92.40000000000003" fill="#cacaca" stroke="none" stroke-width="0"/>
<line x1="528.1" y1="327.3" x2="528.1" y2="333.4" stroke="#444" stroke-width="1.0"/>
<line x1="528.1" y1="333.4" x2="528.1" y2="339.5" stroke="#444" stroke-width="1.0"/>
<circle cx="528.10" cy="327.3" r="1.0" fill="#222"/>
<circle cx="528.10" cy="339.5" r="1.0" fill="#111"/>
<rect x="539" y="311.5" width="21.5" height="114.30000000000001" fill="#868686" stroke="none" stroke-width="0"/>
<line x1="549.75" y1="301.7" x2="549.75" y2="311.5" stroke="#444" stroke-width="1.0"/>
<line x1="549.75" y1="311.5" x2="549.75" y2="320.7" stroke="#111" stroke-width="1.0"/>
<circle cx="549.75" cy="301.7" r="1.0" fill="#222"/>
<circle cx="549.75" cy="320.7" r="1.0" fill="#111"/>
<rect x="560.5" y="292.0" width="21.399999999999977" height="133.8" fill="#262626" stroke="none" stroke-width="0"/>
<line x1="571.2" y1="280.5" x2="571.2" y2="292.0" stroke="#8a8a8a" stroke-width="1.0"/>
<line x1="571.2" y1="292.0" x2="571.2" y2="303.7" stroke="#000" stroke-width="1.1"/>
<circle cx="571.20" cy="280.5" r="0.8" fill="#777"/>
<circle cx="571.20" cy="303.7" r="1.0" fill="#000"/>
<g stroke="#000" stroke-width="1.45" stroke-linecap="round"><line x1="429.0" y1="289.8" x2="433.6" y2="289.8"/><line x1="430.15" y1="287.81" x2="432.45" y2="291.79"/><line x1="430.15" y1="291.79" x2="432.45" y2="287.81"/></g>
<circle cx="431.3" cy="289.8" r="1.45" fill="#000"/>
<g stroke="#000" stroke-width="1.45" stroke-linecap="round"><line x1="429.0" y1="297.0" x2="433.6" y2="297.0"/><line x1="430.15" y1="295.01" x2="432.45" y2="298.99"/><line x1="430.15" y1="298.99" x2="432.45" y2="295.01"/></g>
<circle cx="431.3" cy="297.0" r="1.45" fill="#000"/>
<g stroke="#000" stroke-width="1.45" stroke-linecap="round"><line x1="450.5" y1="275.3" x2="455.1" y2="275.3"/><line x1="451.65" y1="273.31" x2="453.95" y2="277.29"/><line x1="451.65" y1="277.29" x2="453.95" y2="273.31"/></g>
<circle cx="452.8" cy="275.3" r="1.45" fill="#000"/>
<g stroke="#000" stroke-width="1.45" stroke-linecap="round"><line x1="450.5" y1="282.8" x2="455.1" y2="282.8"/><line x1="451.65" y1="280.81" x2="453.95" y2="284.79"/><line x1="451.65" y1="284.79" x2="453.95" y2="280.81"/></g>
<circle cx="452.8" cy="282.8" r="1.45" fill="#000"/>
<g stroke="#000" stroke-width="1.45" stroke-linecap="round"><line x1="547.1" y1="287.7" x2="551.6999999999999" y2="287.7"/><line x1="548.25" y1="285.71" x2="550.55" y2="289.69"/><line x1="548.25" y1="289.69" x2="550.55" y2="285.71"/></g>
<circle cx="549.4" cy="287.7" r="1.45" fill="#000"/>
<g stroke="#000" stroke-width="1.45" stroke-linecap="round"><line x1="547.1" y1="295.1" x2="551.6999999999999" y2="295.1"/><line x1="548.25" y1="293.11" x2="550.55" y2="297.09"/><line x1="548.25" y1="297.09" x2="550.55" y2="293.11"/></g>
<circle cx="549.4" cy="295.1" r="1.45" fill="#000"/>
<g stroke="#000" stroke-width="1.45" stroke-linecap="round"><line x1="568.5" y1="266.5" x2="573.0999999999999" y2="266.5"/><line x1="569.65" y1="264.51" x2="571.95" y2="268.49"/><line x1="569.65" y1="268.49" x2="571.95" y2="264.51"/></g>
<circle cx="570.8" cy="266.5" r="1.45" fill="#000"/>
<g stroke="#000" stroke-width="1.45" stroke-linecap="round"><line x1="568.5" y1="273.8" x2="573.0999999999999" y2="273.8"/><line x1="569.65" y1="271.81" x2="571.95" y2="275.79"/><line x1="569.65" y1="275.79" x2="571.95" y2="271.81"/></g>
<circle cx="570.8" cy="273.8" r="1.45" fill="#000"/>
<line x1="361.5" y1="252.6" x2="361.5" y2="426.40000000000003" stroke="#333" stroke-width="1.2"/>
<line x1="361.5" y1="425.8" x2="598.6" y2="425.8" stroke="#333" stroke-width="1.2"/>
<line x1="361.5" y1="425.9" x2="364.3" y2="425.9" stroke="#333" stroke-width="1.1"/>
<text x="354.2" y="429.59999999999997" font-size="11" font-weight="bold" text-anchor="end" fill="#000" class="S" textLength="4.6" lengthAdjust="spacingAndGlyphs">0</text>
<line x1="361.5" y1="404.29999999999995" x2="364.3" y2="404.29999999999995" stroke="#333" stroke-width="1.1"/>
<text x="354.2" y="407.99999999999994" font-size="11" font-weight="bold" text-anchor="end" fill="#000" class="S" textLength="11.0" lengthAdjust="spacingAndGlyphs">0.2</text>
<line x1="361.5" y1="382.7" x2="364.3" y2="382.7" stroke="#333" stroke-width="1.1"/>
<text x="354.2" y="386.4" font-size="11" font-weight="bold" text-anchor="end" fill="#000" class="S" textLength="11.0" lengthAdjust="spacingAndGlyphs">0.4</text>
<line x1="361.5" y1="361.09999999999997" x2="364.3" y2="361.09999999999997" stroke="#333" stroke-width="1.1"/>
<text x="354.2" y="364.79999999999995" font-size="11" font-weight="bold" text-anchor="end" fill="#000" class="S" textLength="11.0" lengthAdjust="spacingAndGlyphs">0.6</text>
<line x1="361.5" y1="339.5" x2="364.3" y2="339.5" stroke="#333" stroke-width="1.1"/>
<text x="354.2" y="343.2" font-size="11" font-weight="bold" text-anchor="end" fill="#000" class="S" textLength="11.0" lengthAdjust="spacingAndGlyphs">0.8</text>
<line x1="361.5" y1="317.9" x2="364.3" y2="317.9" stroke="#333" stroke-width="1.1"/>
<text x="354.2" y="321.59999999999997" font-size="11" font-weight="bold" text-anchor="end" fill="#000" class="S" textLength="4.6" lengthAdjust="spacingAndGlyphs">1</text>
<line x1="361.5" y1="296.29999999999995" x2="364.3" y2="296.29999999999995" stroke="#333" stroke-width="1.1"/>
<text x="354.2" y="299.99999999999994" font-size="11" font-weight="bold" text-anchor="end" fill="#000" class="S" textLength="11.0" lengthAdjust="spacingAndGlyphs">1.2</text>
<line x1="361.5" y1="274.7" x2="364.3" y2="274.7" stroke="#333" stroke-width="1.1"/>
<text x="354.2" y="278.4" font-size="11" font-weight="bold" text-anchor="end" fill="#000" class="S" textLength="11.0" lengthAdjust="spacingAndGlyphs">1.4</text>
<line x1="361.5" y1="253.09999999999997" x2="364.3" y2="253.09999999999997" stroke="#333" stroke-width="1.1"/>
<text x="354.2" y="256.79999999999995" font-size="11" font-weight="bold" text-anchor="end" fill="#000" class="S" textLength="11.0" lengthAdjust="spacingAndGlyphs">1.6</text>
<line x1="480.05" y1="425.8" x2="480.05" y2="423.2" stroke="#333" stroke-width="1"/>
<line x1="598.6" y1="425.8" x2="598.6" y2="423.2" stroke="#333" stroke-width="1"/>
<text x="406.7" y="445" font-size="11" font-weight="bold" text-anchor="start" fill="#000" class="S" textLength="28.3" lengthAdjust="spacingAndGlyphs">21 days</text>
<text x="524.4" y="445" font-size="11" font-weight="bold" text-anchor="start" fill="#000" class="S" textLength="29.3" lengthAdjust="spacingAndGlyphs">42 days</text>
<text transform="translate(325,338.9) rotate(-90)" font-size="12.3" font-weight="bold" text-anchor="middle" class="S" textLength="112.6" lengthAdjust="spacingAndGlyphs">IL–6 relative protein</text>
<text transform="translate(337.2,340.5) rotate(-90)" font-size="12.3" font-weight="bold" text-anchor="middle" class="S" textLength="93.7" lengthAdjust="spacingAndGlyphs">expression levels</text>
<rect x="109.5" y="269.5" width="183" height="26" fill="#fff" stroke="#4a4a4a" stroke-width="1.2"/>
<line x1="195" y1="284.5" x2="200" y2="284.5" stroke="#111" stroke-width="1.2"/>
<path d="M148.0,284.6 L147.9,285.7 L147.6,286.4 L147.2,286.9 L146.5,287.3 L145.7,287.7 L144.7,288.0 L143.5,288.3 L142.1,288.5 L140.4,288.7 L138.5,288.8 L136.1,288.9 L132.0,288.9 L127.9,288.9 L125.5,288.8 L123.6,288.7 L121.9,288.5 L120.5,288.3 L119.3,288.0 L118.3,287.7 L117.5,287.3 L116.8,286.9 L116.4,286.4 L116.1,285.7 L116.0,284.7 L116.1,283.6 L116.4,282.9 L116.8,282.4 L117.5,282.0 L118.3,281.6 L119.3,281.3 L120.5,281.0 L121.9,280.8 L123.6,280.6 L125.5,280.5 L127.9,280.4 L132.0,280.4 L136.1,280.4 L138.5,280.5 L140.4,280.6 L142.1,280.8 L143.5,281.0 L144.7,281.3 L145.7,281.6 L146.5,282.0 L147.2,282.4 L147.6,282.9 L147.9,283.6Z" fill="#060606"/>
<path d="M196.5,284.5 L196.4,285.6 L196.1,286.2 L195.6,286.8 L194.9,287.2 L193.9,287.6 L192.8,287.9 L191.4,288.2 L189.9,288.4 L188.0,288.6 L185.8,288.7 L183.2,288.8 L178.6,288.8 L173.9,288.8 L171.3,288.7 L169.1,288.6 L167.2,288.4 L165.7,288.2 L164.3,287.9 L163.2,287.6 L162.2,287.2 L161.5,286.8 L161.0,286.2 L160.7,285.6 L160.6,284.5 L160.7,283.4 L161.0,282.8 L161.5,282.2 L162.2,281.8 L163.2,281.4 L164.3,281.1 L165.7,280.8 L167.2,280.6 L169.1,280.4 L171.3,280.3 L173.9,280.2 L178.5,280.2 L183.2,280.2 L185.8,280.3 L188.0,280.4 L189.9,280.6 L191.4,280.8 L192.8,281.1 L193.9,281.4 L194.9,281.8 L195.6,282.2 L196.1,282.8 L196.4,283.4Z" fill="#060606"/>
<path d="M244.3,284.8 L244.2,286.3 L243.8,287.2 L243.1,288.0 L242.2,288.6 L241.0,289.2 L239.5,289.7 L237.8,290.1 L235.7,290.4 L233.4,290.7 L230.6,290.9 L227.3,291.0 L221.8,291.0 L216.2,291.0 L212.9,290.9 L210.1,290.7 L207.8,290.4 L205.7,290.1 L204.0,289.7 L202.5,289.2 L201.3,288.6 L200.4,288.0 L199.7,287.2 L199.3,286.3 L199.2,284.8 L199.3,283.3 L199.7,282.4 L200.4,281.6 L201.3,281.0 L202.5,280.4 L204.0,279.9 L205.7,279.5 L207.8,279.2 L210.1,278.9 L212.9,278.7 L216.2,278.6 L221.7,278.6 L227.3,278.6 L230.6,278.7 L233.4,278.9 L235.7,279.2 L237.8,279.5 L239.5,279.9 L241.0,280.4 L242.2,281.0 L243.1,281.6 L243.8,282.4 L244.2,283.3Z" fill="#060606"/>
<path d="M290.0,282.9 L289.9,284.3 L289.4,285.3 L288.7,286.1 L287.6,286.8 L286.3,287.5 L284.7,288.0 L282.8,288.5 L280.6,288.8 L278.0,289.1 L275.1,289.3 L271.7,289.5 L266.5,289.5 L261.3,289.5 L257.9,289.3 L255.0,289.1 L252.4,288.8 L250.2,288.5 L248.3,288.0 L246.7,287.5 L245.4,286.8 L244.3,286.1 L243.6,285.3 L243.1,284.3 L243.0,282.9 L243.1,281.4 L243.6,280.4 L244.3,279.6 L245.4,278.9 L246.7,278.2 L248.3,277.7 L250.2,277.2 L252.4,276.9 L255.0,276.6 L257.9,276.4 L261.3,276.2 L266.5,276.2 L271.7,276.2 L275.1,276.4 L278.0,276.6 L280.6,276.9 L282.8,277.2 L284.7,277.7 L286.3,278.2 L287.6,278.9 L288.7,279.6 L289.4,280.4 L289.9,281.4Z" fill="#060606"/>
<line x1="288" y1="283" x2="292" y2="283" stroke="#333" stroke-width="1.1"/>
<rect x="111.5" y="305.5" width="181" height="25" fill="#fff" stroke="#4a4a4a" stroke-width="1.2"/>
<path d="M159.5,316.8 L159.4,318.8 L159.1,319.8 L158.5,320.5 L157.8,321.2 L156.8,321.7 L155.6,322.2 L154.1,322.6 L152.4,322.9 L150.3,323.1 L147.8,323.3 L144.6,323.4 L138.2,323.4 L131.7,323.4 L128.5,323.3 L126.0,323.1 L123.9,322.9 L122.2,322.6 L120.7,322.2 L119.5,321.7 L118.5,321.2 L117.8,320.5 L117.2,319.8 L116.9,318.8 L116.8,316.8 L116.9,314.7 L117.2,313.7 L117.8,313.0 L118.5,312.3 L119.5,311.8 L120.7,311.3 L122.2,310.9 L123.9,310.6 L126.0,310.4 L128.5,310.2 L131.7,310.1 L138.1,310.1 L144.6,310.1 L147.8,310.2 L150.3,310.4 L152.4,310.6 L154.1,310.9 L155.6,311.3 L156.8,311.8 L157.8,312.3 L158.5,313.0 L159.1,313.7 L159.4,314.7Z" fill="#060606"/>
<path d="M203.5,317.0 L203.4,319.1 L203.0,320.2 L202.4,321.0 L201.6,321.7 L200.5,322.3 L199.1,322.8 L197.5,323.2 L195.5,323.5 L193.2,323.8 L190.5,324.0 L186.9,324.1 L179.8,324.1 L172.6,324.1 L169.0,324.0 L166.3,323.8 L164.0,323.5 L162.0,323.2 L160.4,322.8 L159.0,322.3 L157.9,321.7 L157.1,321.0 L156.5,320.2 L156.1,319.1 L156.0,317.0 L156.1,314.9 L156.5,313.8 L157.1,313.0 L157.9,312.3 L159.0,311.7 L160.4,311.2 L162.0,310.8 L164.0,310.5 L166.3,310.2 L169.0,310.0 L172.6,309.9 L179.7,309.9 L186.9,309.9 L190.5,310.0 L193.2,310.2 L195.5,310.5 L197.5,310.8 L199.1,311.2 L200.5,311.7 L201.6,312.3 L202.4,313.0 L203.0,313.8 L203.4,314.9Z" fill="#060606"/>
<path d="M247.0,318.3 L246.9,320.4 L246.5,321.5 L246.0,322.3 L245.2,323.0 L244.1,323.5 L242.9,324.0 L241.3,324.4 L239.5,324.7 L237.3,325.0 L234.7,325.2 L231.3,325.3 L224.5,325.3 L217.7,325.3 L214.3,325.2 L211.7,325.0 L209.5,324.7 L207.7,324.4 L206.1,324.0 L204.9,323.5 L203.8,323.0 L203.0,322.3 L202.5,321.5 L202.1,320.4 L202.0,318.3 L202.1,316.2 L202.5,315.1 L203.0,314.3 L203.8,313.6 L204.9,313.1 L206.1,312.6 L207.7,312.2 L209.5,311.9 L211.7,311.6 L214.3,311.4 L217.7,311.3 L224.5,311.3 L231.3,311.3 L234.7,311.4 L237.3,311.6 L239.5,311.9 L241.3,312.2 L242.9,312.6 L244.1,313.1 L245.2,313.6 L246.0,314.3 L246.5,315.1 L246.9,316.2Z" fill="#060606"/>
<path d="M291.5,318.8 L291.4,320.5 L291.0,321.4 L290.4,322.1 L289.5,322.8 L288.3,323.3 L286.9,323.7 L285.2,324.1 L283.2,324.4 L280.9,324.6 L278.1,324.8 L274.6,324.9 L268.0,324.9 L261.4,324.9 L257.9,324.8 L255.1,324.6 L252.8,324.4 L250.8,324.1 L249.1,323.7 L247.7,323.3 L246.5,322.8 L245.6,322.1 L245.0,321.4 L244.6,320.5 L244.5,318.8 L244.6,317.1 L245.0,316.2 L245.6,315.5 L246.5,314.8 L247.7,314.3 L249.1,313.9 L250.8,313.5 L252.8,313.2 L255.1,313.0 L257.9,312.8 L261.4,312.7 L268.0,312.7 L274.6,312.7 L278.1,312.8 L280.9,313.0 L283.2,313.2 L285.2,313.5 L286.9,313.9 L288.3,314.3 L289.5,314.8 L290.4,315.5 L291.0,316.2 L291.4,317.1Z" fill="#060606"/>
<rect x="107.5" y="365.5" width="184" height="26" fill="#fff" stroke="#4a4a4a" stroke-width="1.2"/>
<line x1="195" y1="379.3" x2="203" y2="379.2" stroke="#111" stroke-width="1.3"/>
<line x1="242" y1="378.8" x2="247" y2="378.8" stroke="#111" stroke-width="1.3"/>
<line x1="286" y1="378.8" x2="291" y2="378.8" stroke="#333" stroke-width="1.2"/>
<path d="M148.0,379.8 L147.9,380.6 L147.6,381.2 L147.1,381.7 L146.4,382.1 L145.4,382.5 L144.3,382.8 L143.0,383.0 L141.5,383.2 L139.7,383.4 L137.6,383.5 L135.2,383.6 L131.3,383.6 L127.3,383.6 L124.9,383.5 L122.8,383.4 L121.0,383.2 L119.5,383.0 L118.2,382.8 L117.1,382.5 L116.1,382.1 L115.4,381.7 L114.9,381.2 L114.6,380.6 L114.5,379.8 L114.6,378.9 L114.9,378.3 L115.4,377.8 L116.1,377.4 L117.1,377.0 L118.2,376.7 L119.5,376.5 L121.0,376.3 L122.8,376.1 L124.9,376.0 L127.3,375.9 L131.2,375.9 L135.2,375.9 L137.6,376.0 L139.7,376.1 L141.5,376.3 L143.0,376.5 L144.3,376.7 L145.4,377.0 L146.4,377.4 L147.1,377.8 L147.6,378.3 L147.9,378.9Z" fill="#060606"/>
<path d="M197.0,379.6 L196.9,381.0 L196.5,381.8 L196.0,382.4 L195.1,382.9 L194.1,383.4 L192.8,383.8 L191.3,384.1 L189.5,384.4 L187.4,384.6 L185.0,384.8 L182.0,384.9 L176.8,384.9 L171.5,384.9 L168.5,384.8 L166.1,384.6 L164.0,384.4 L162.2,384.1 L160.7,383.8 L159.4,383.4 L158.4,382.9 L157.5,382.4 L157.0,381.8 L156.6,381.0 L156.5,379.6 L156.6,378.2 L157.0,377.4 L157.5,376.8 L158.4,376.3 L159.4,375.8 L160.7,375.4 L162.2,375.1 L164.0,374.8 L166.1,374.6 L168.5,374.4 L171.5,374.3 L176.7,374.3 L182.0,374.3 L185.0,374.4 L187.4,374.6 L189.5,374.8 L191.3,375.1 L192.8,375.4 L194.1,375.8 L195.1,376.3 L196.0,376.8 L196.5,377.4 L196.9,378.2Z" fill="#060606"/>
<path d="M244.5,379.1 L244.4,380.7 L244.0,381.6 L243.3,382.4 L242.5,383.1 L241.3,383.7 L239.9,384.2 L238.2,384.6 L236.3,385.0 L234.0,385.3 L231.4,385.4 L228.2,385.6 L222.9,385.6 L217.5,385.6 L214.3,385.4 L211.7,385.3 L209.4,385.0 L207.5,384.6 L205.8,384.2 L204.4,383.7 L203.2,383.1 L202.4,382.4 L201.7,381.6 L201.3,380.7 L201.2,379.1 L201.3,377.4 L201.7,376.5 L202.4,375.7 L203.2,375.0 L204.4,374.4 L205.8,373.9 L207.5,373.5 L209.4,373.1 L211.7,372.8 L214.3,372.7 L217.5,372.5 L222.8,372.5 L228.2,372.5 L231.4,372.7 L234.0,372.8 L236.3,373.1 L238.2,373.5 L239.9,373.9 L241.3,374.4 L242.5,375.0 L243.3,375.7 L244.0,376.5 L244.4,377.4Z" fill="#060606"/>
<path d="M287.8,378.9 L287.7,380.5 L287.3,381.5 L286.7,382.4 L285.8,383.1 L284.6,383.7 L283.3,384.2 L281.6,384.6 L279.7,385.0 L277.4,385.2 L274.8,385.4 L271.7,385.6 L266.4,385.6 L261.1,385.6 L258.0,385.4 L255.4,385.2 L253.1,385.0 L251.2,384.6 L249.5,384.2 L248.2,383.7 L247.0,383.1 L246.1,382.4 L245.5,381.5 L245.1,380.5 L245.0,378.9 L245.1,377.3 L245.5,376.3 L246.1,375.4 L247.0,374.7 L248.2,374.1 L249.5,373.6 L251.2,373.2 L253.1,372.8 L255.4,372.6 L258.0,372.4 L261.1,372.2 L266.4,372.2 L271.7,372.2 L274.8,372.4 L277.4,372.6 L279.7,372.8 L281.6,373.2 L283.3,373.6 L284.6,374.1 L285.8,374.7 L286.7,375.4 L287.3,376.3 L287.7,377.3Z" fill="#060606"/>
<rect x="108.5" y="400.5" width="183" height="26" fill="#fff" stroke="#4a4a4a" stroke-width="1.2"/>
<line x1="153" y1="416.5" x2="158" y2="416" stroke="#111" stroke-width="1.5"/>
<line x1="198" y1="415.5" x2="203" y2="415.5" stroke="#111" stroke-width="1.5"/>
<line x1="244" y1="414.5" x2="249" y2="414" stroke="#111" stroke-width="1.5"/>
<path d="M156.0,417.4 L155.9,419.3 L155.5,420.4 L154.9,421.2 L154.0,421.8 L152.9,422.4 L151.6,422.9 L149.9,423.3 L148.0,423.6 L145.8,423.9 L143.1,424.1 L139.7,424.2 L133.3,424.2 L126.9,424.2 L123.5,424.1 L120.8,423.9 L118.6,423.6 L116.7,423.3 L115.0,422.9 L113.7,422.4 L112.6,421.8 L111.7,421.2 L111.1,420.4 L110.7,419.3 L110.6,417.5 L110.7,415.6 L111.1,414.5 L111.7,413.7 L112.6,413.1 L113.7,412.5 L115.0,412.0 L116.7,411.6 L118.6,411.3 L120.8,411.0 L123.5,410.8 L126.9,410.7 L133.3,410.7 L139.7,410.7 L143.1,410.8 L145.8,411.0 L148.0,411.3 L149.9,411.6 L151.6,412.0 L152.9,412.5 L154.0,413.1 L154.9,413.7 L155.5,414.5 L155.9,415.6Z" fill="#060606"/>
<path d="M200.0,415.8 L199.9,417.8 L199.5,418.9 L198.9,419.7 L198.1,420.4 L197.1,421.0 L195.7,421.5 L194.2,421.9 L192.3,422.2 L190.1,422.5 L187.4,422.7 L184.1,422.8 L177.5,422.8 L170.9,422.8 L167.6,422.7 L164.9,422.5 L162.7,422.2 L160.8,421.9 L159.3,421.5 L157.9,421.0 L156.9,420.4 L156.1,419.7 L155.5,418.9 L155.1,417.8 L155.0,415.8 L155.1,413.8 L155.5,412.7 L156.1,411.9 L156.9,411.2 L157.9,410.6 L159.3,410.1 L160.8,409.7 L162.7,409.4 L164.9,409.1 L167.6,408.9 L170.9,408.8 L177.5,408.8 L184.1,408.8 L187.4,408.9 L190.1,409.1 L192.3,409.4 L194.2,409.7 L195.7,410.1 L197.1,410.6 L198.1,411.2 L198.9,411.9 L199.5,412.7 L199.9,413.8Z" fill="#060606"/>
<path d="M246.5,415.1 L246.4,417.4 L246.0,418.6 L245.4,419.5 L244.6,420.3 L243.5,420.9 L242.2,421.5 L240.6,422.0 L238.7,422.3 L236.5,422.6 L233.8,422.8 L230.4,423.0 L223.8,423.0 L217.1,423.0 L213.7,422.8 L211.0,422.6 L208.8,422.3 L206.9,422.0 L205.3,421.5 L204.0,420.9 L202.9,420.3 L202.1,419.5 L201.5,418.6 L201.1,417.4 L201.0,415.1 L201.1,412.8 L201.5,411.6 L202.1,410.7 L202.9,409.9 L204.0,409.3 L205.3,408.7 L206.9,408.2 L208.8,407.9 L211.0,407.6 L213.7,407.4 L217.1,407.2 L223.7,407.2 L230.4,407.2 L233.8,407.4 L236.5,407.6 L238.7,407.9 L240.6,408.2 L242.2,408.7 L243.5,409.3 L244.6,409.9 L245.4,410.7 L246.0,411.6 L246.4,412.8Z" fill="#060606"/>
<path d="M288.0,413.8 L287.9,415.6 L287.6,416.6 L287.0,417.4 L286.3,418.0 L285.3,418.6 L284.1,419.0 L282.6,419.4 L280.9,419.7 L278.9,420.0 L276.5,420.2 L273.4,420.3 L267.8,420.3 L262.1,420.3 L259.0,420.2 L256.6,420.0 L254.6,419.7 L252.9,419.4 L251.4,419.0 L250.2,418.6 L249.2,418.0 L248.5,417.4 L247.9,416.6 L247.6,415.6 L247.5,413.8 L247.6,412.0 L247.9,411.0 L248.5,410.2 L249.2,409.6 L250.2,409.0 L251.4,408.6 L252.9,408.2 L254.6,407.9 L256.6,407.6 L259.0,407.4 L262.1,407.3 L267.7,407.3 L273.4,407.3 L276.5,407.4 L278.9,407.6 L280.9,407.9 L282.6,408.2 L284.1,408.6 L285.3,409.0 L286.3,409.6 L287.0,410.2 L287.6,411.0 L287.9,412.0Z" fill="#060606"/>
<text x="1" y="299.2" font-size="11" font-weight="bold" text-anchor="start" fill="#000" class="S" textLength="37" lengthAdjust="spacingAndGlyphs">21 days</text>
<text x="1" y="397.4" font-size="11" font-weight="bold" text-anchor="start" fill="#000" class="S" textLength="37" lengthAdjust="spacingAndGlyphs">42 days</text>
<line x1="55.8" y1="276.3" x2="55.8" y2="322" stroke="#333" stroke-width="1"/>
<line x1="55.2" y1="373.9" x2="55.2" y2="418.6" stroke="#333" stroke-width="1"/>
<text x="66.7" y="285.3" font-size="10" font-weight="bold" text-anchor="start" fill="#000" class="S" textLength="19.1" lengthAdjust="spacingAndGlyphs">IL-6</text>
<text x="66.7" y="320" font-size="10" font-weight="bold" text-anchor="start" fill="#000" class="S" textLength="30.3" lengthAdjust="spacingAndGlyphs">β-actin</text>
<text x="66.7" y="381.3" font-size="10" font-weight="bold" text-anchor="start" fill="#000" class="S" textLength="19.1" lengthAdjust="spacingAndGlyphs">IL-6</text>
<text x="66.7" y="414.5" font-size="10" font-weight="bold" text-anchor="start" fill="#000" class="S" textLength="30.3" lengthAdjust="spacingAndGlyphs">β-actin</text>
<text x="126" y="351.6" font-size="9.8" font-weight="bold" text-anchor="start" fill="#000" class="S" textLength="14.7" lengthAdjust="spacingAndGlyphs">CG</text>
<text x="166" y="351.6" font-size="9.8" font-weight="bold" text-anchor="start" fill="#000" class="S" textLength="11.3" lengthAdjust="spacingAndGlyphs">GI</text>
<text x="207.7" y="351.6" font-size="9.8" font-weight="bold" text-anchor="start" fill="#000" class="S" textLength="18.3" lengthAdjust="spacingAndGlyphs">G II</text>
<text x="254" y="351.6" font-size="9.8" font-weight="bold" text-anchor="start" fill="#000" class="S" textLength="21.7" lengthAdjust="spacingAndGlyphs">G III</text>
</svg>
</body></html>
